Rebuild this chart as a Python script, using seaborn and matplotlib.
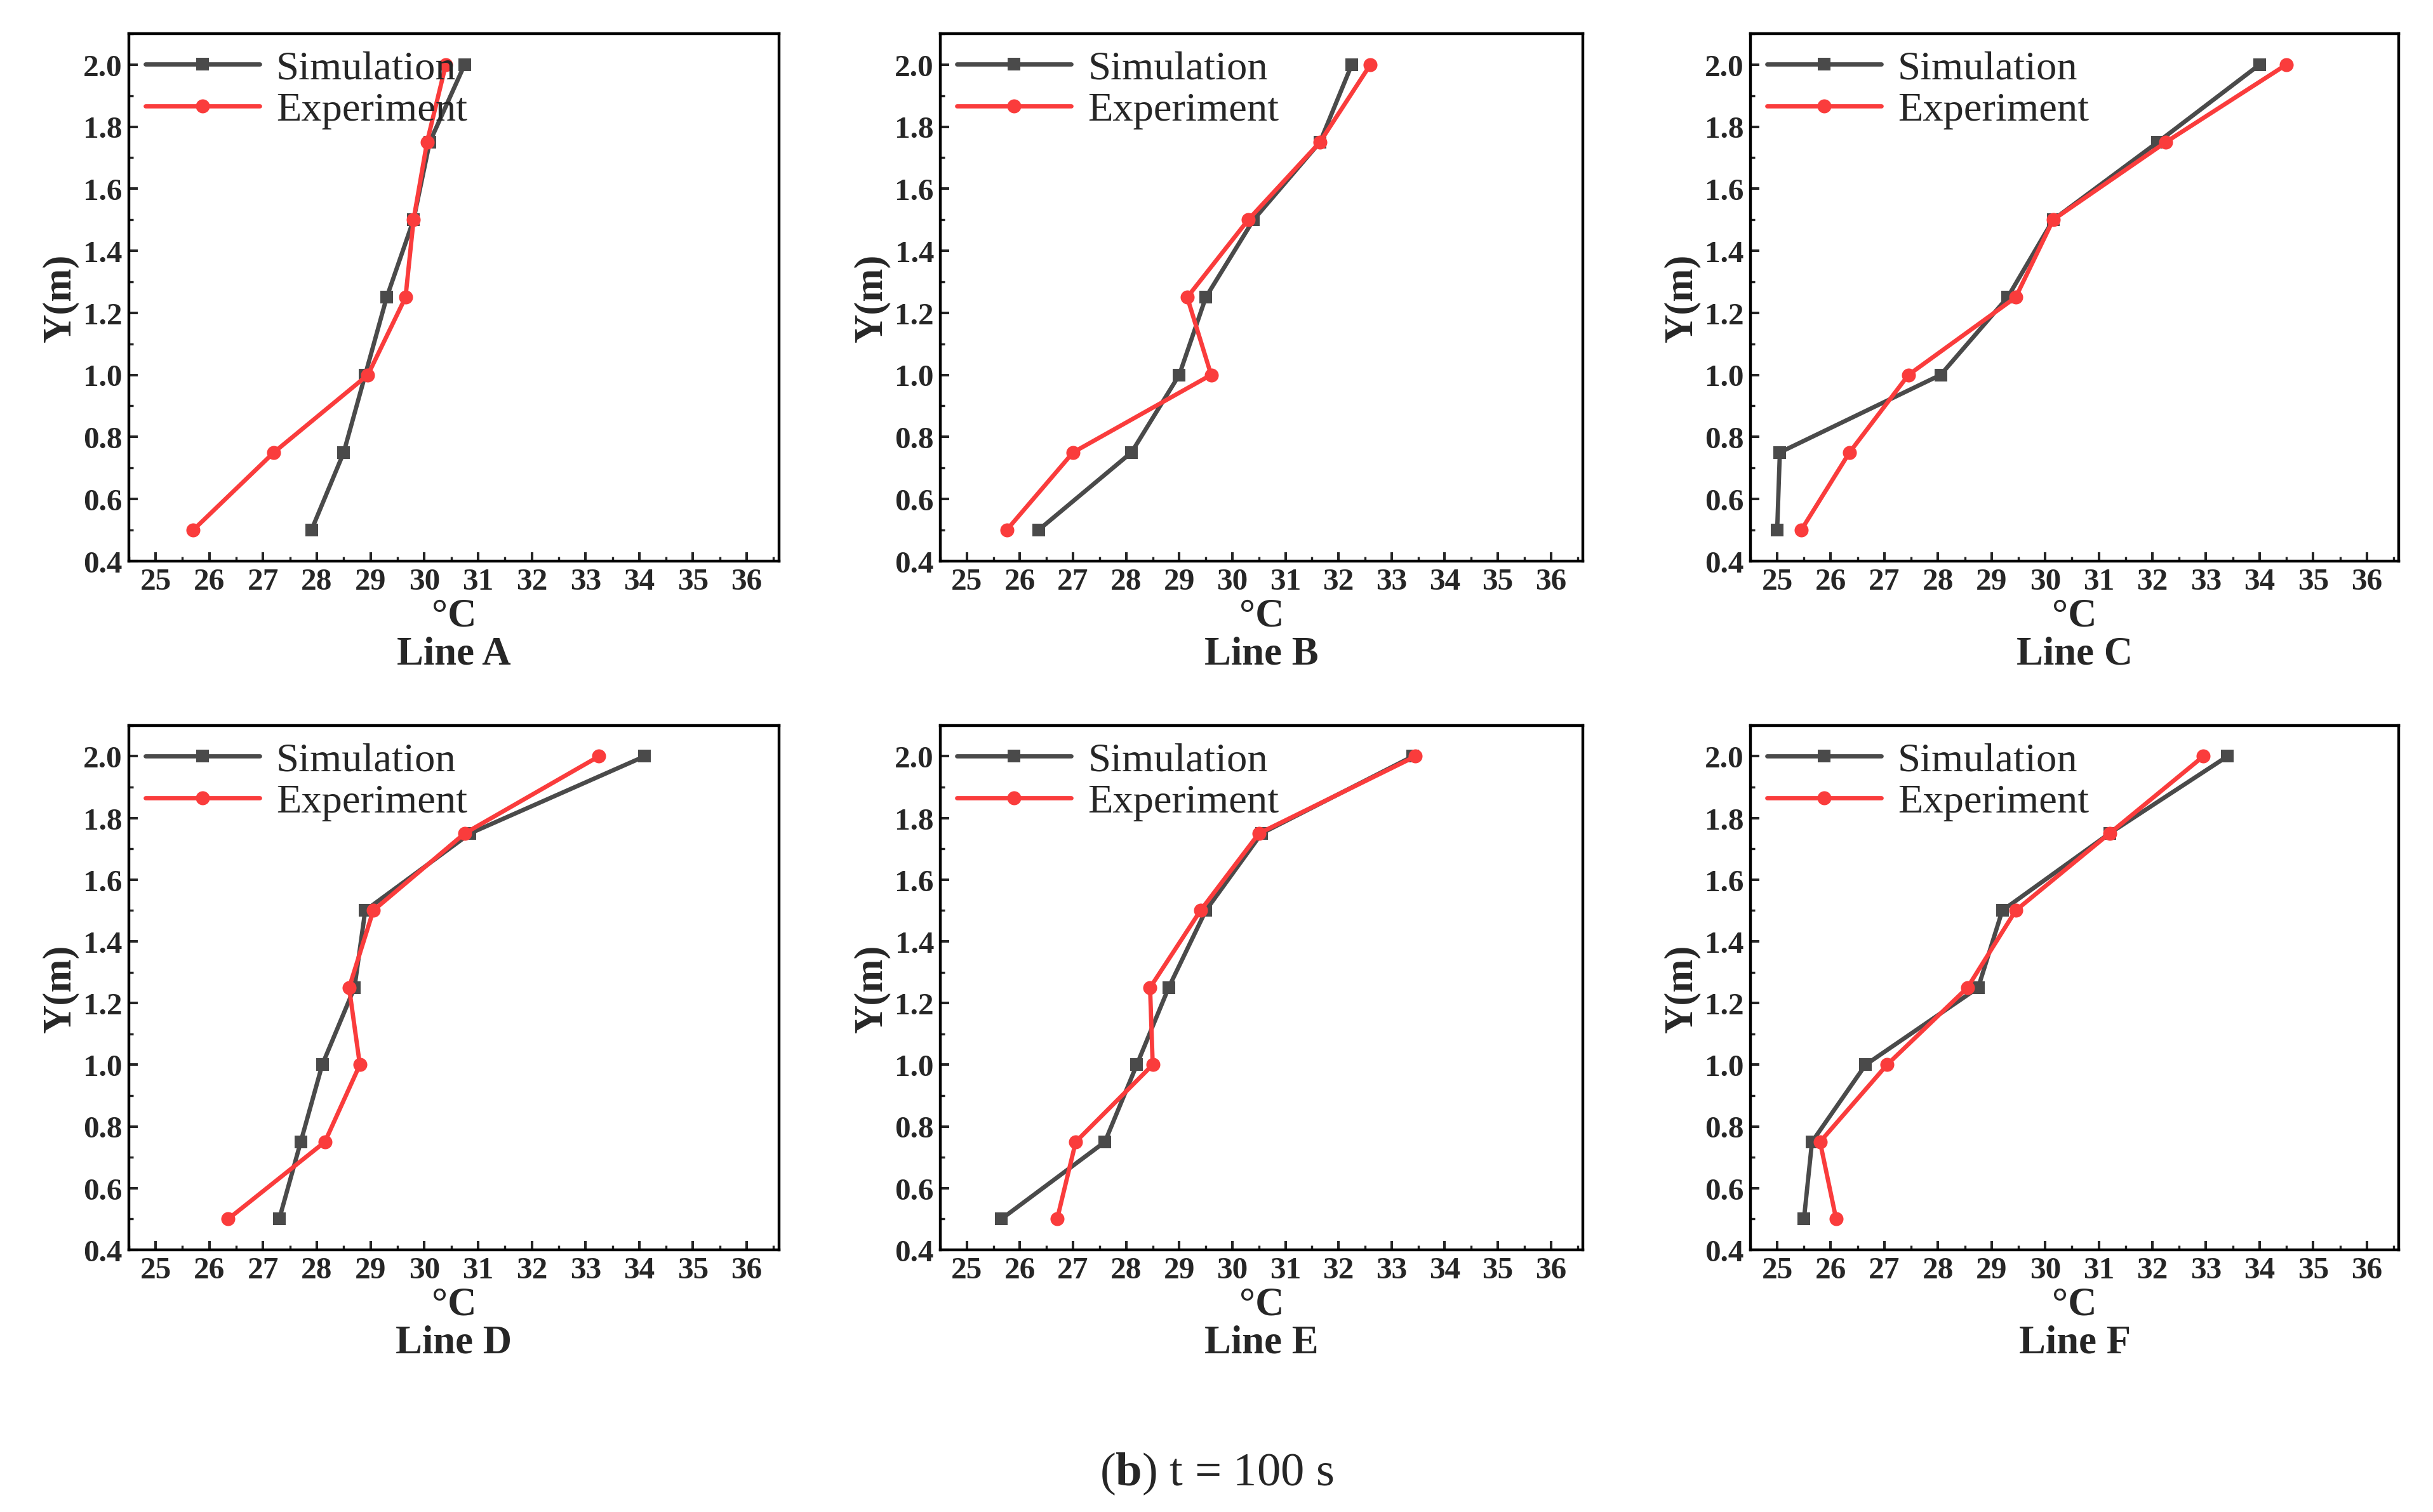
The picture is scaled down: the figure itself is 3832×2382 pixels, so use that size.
import numpy as np
import pandas as pd
import matplotlib
matplotlib.use("Agg")
import matplotlib.pyplot as plt
import seaborn as sns
from matplotlib.ticker import MultipleLocator

# -------------------------------
# Data
# -------------------------------
HEIGHTS = [0.5, 0.75, 1.0, 1.25, 1.5, 1.75, 2.0]
PANELS = ["Line A", "Line B", "Line C", "Line D", "Line E", "Line F"]

SIM_A = [27.9, 28.5, 28.9, 29.3, 29.8, 30.1, 30.75]
EXP_A = [25.7, 27.2, 28.95, 29.65, 29.8, 30.05, 30.4]
SIM_B = [26.35, 28.1, 29.0, 29.5, 30.4, 31.65, 32.25]
EXP_B = [25.75, 27.0, 29.6, 29.15, 30.3, 31.65, 32.6]
SIM_C = [25.0, 25.05, 28.05, 29.3, 30.15, 32.1, 34.0]
EXP_C = [25.45, 26.35, 27.45, 29.45, 30.15, 32.25, 34.5]
SIM_D = [27.3, 27.7, 28.1, 28.7, 28.9, 30.85, 34.1]
EXP_D = [26.35, 28.15, 28.8, 28.6, 29.05, 30.75, 33.25]
SIM_E = [25.65, 27.6, 28.2, 28.8, 29.5, 30.55, 33.4]
EXP_E = [26.7, 27.05, 28.5, 28.45, 29.4, 30.5, 33.45]
SIM_F = [25.5, 25.65, 26.65, 28.75, 29.2, 31.2, 33.4]
EXP_F = [26.1, 25.8, 27.05, 28.55, 29.45, 31.2, 32.95]

SIM = [SIM_A, SIM_B, SIM_C, SIM_D, SIM_E, SIM_F]
EXP = [EXP_A, EXP_B, EXP_C, EXP_D, EXP_E, EXP_F]

XTICKS = list(range(25, 37))
YTICKS = [0.4, 0.6, 0.8, 1.0, 1.2, 1.4, 1.6, 1.8, 2.0]

# -------------------------------
# Style
# -------------------------------
sns.set_theme(style="ticks")
plt.rcParams.update({
    "font.family": "Liberation Serif",
    "mathtext.fontset": "custom",
    "mathtext.rm": "Liberation Serif",
    "mathtext.bf": "Liberation Serif:bold",
    "xtick.direction": "in",
    "ytick.direction": "in",
})

W, H = 1568, 975
fig = plt.figure(figsize=(W / 100, H / 100), dpi=244.4)

LEFTS = [83, 606, 1128]
RIGHTS = [502, 1020, 1546]
TOPS = [22, 468]
BOTTOMS = [362, 806]

for i, name in enumerate(PANELS):
    r, c = divmod(i, 3)
    ax = fig.add_axes([LEFTS[c] / W, 1 - BOTTOMS[r] / H,
                       (RIGHTS[c] - LEFTS[c]) / W, (BOTTOMS[r] - TOPS[r]) / H])
    df = pd.DataFrame({
        "T": SIM[i] + EXP[i],
        "Y": HEIGHTS + HEIGHTS,
        "Series": ["Simulation"] * 7 + ["Experiment"] * 7,
    })
    sns.lineplot(data=df[df.Series == "Simulation"], x="T", y="Y", sort=False,
                 color="#4a4a4a", marker="s", markersize=6, linewidth=2.0,
                 markeredgewidth=0, label="Simulation", ax=ax, estimator=None)
    sns.lineplot(data=df[df.Series == "Experiment"], x="T", y="Y", sort=False,
                 color="#fa3c3c", marker="o", markersize=6.5, linewidth=2.0,
                 markeredgewidth=0, label="Experiment", ax=ax, estimator=None)

    ax.set_xlim(24.5, 36.6)
    ax.set_ylim(0.4, 2.1)
    ax.set_xticks(XTICKS)
    ax.set_yticks(YTICKS)
    ax.set_yticklabels([f"{v:.1f}" for v in YTICKS])
    ax.xaxis.set_minor_locator(MultipleLocator(0.5))
    ax.yaxis.set_minor_locator(MultipleLocator(0.1))
    ax.tick_params(which="major", length=4, width=1.2, labelsize=14.5, pad=3)
    ax.tick_params(which="minor", length=2, width=1.0)
    for lab in ax.get_xticklabels() + ax.get_yticklabels():
        lab.set_fontweight("bold")
    for sp in ax.spines.values():
        sp.set_linewidth(1.3)
        sp.set_color("black")

    ax.set_xlabel("°C\n" + name, fontsize=18.5, fontweight="bold", labelpad=1,
                  linespacing=1.05)
    ax.set_ylabel("Y(m)", fontsize=18.5, fontweight="bold", labelpad=2)

    ax.legend(loc="upper left", frameon=False, fontsize=19, handlelength=2.8,
              borderaxespad=0.0, handletextpad=0.4, labelspacing=0.1)

fig.text(0.5, 1 - 950 / H, r"($\mathbf{b}$) t = 100 s", ha="center", va="center",
         fontsize=22)

fig.savefig("out.png", dpi=244.4)
